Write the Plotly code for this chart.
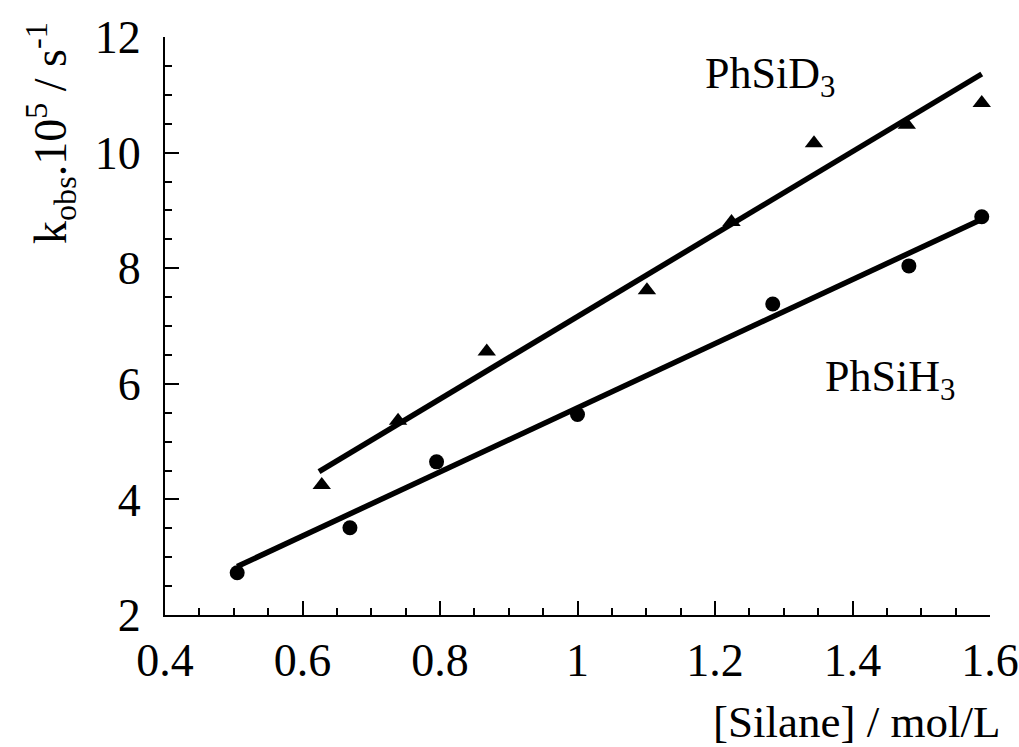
import plotly.graph_objects as go

# --- data ---
h3_x = [0.505, 0.669, 0.795, 1.000, 1.284, 1.482, 1.588]
h3_y = [2.73, 3.51, 4.65, 5.47, 7.38, 8.04, 8.89]

d3_x = [0.628, 0.739, 0.868, 1.101, 1.224, 1.344, 1.479, 1.588]
d3_y = [4.25, 5.36, 6.56, 7.62, 8.80, 10.16, 10.48, 10.86]

h3_fit_x = [0.505, 1.585]
h3_fit_y = [2.84, 8.83]
d3_fit_x = [0.624, 1.588]
d3_fit_y = [4.48, 11.36]

x_ticks = [0.4, 0.6, 0.8, 1.0, 1.2, 1.4, 1.6]
x_tick_labels = ["0.4", "0.6", "0.8", "1", "1.2", "1.4", "1.6"]
y_ticks = [2, 4, 6, 8, 10, 12]

FONT = "Liberation Serif, Times New Roman, serif"
FS = 46
FS_LBL = 44

fig = go.Figure()
fig.add_trace(go.Scatter(x=d3_fit_x, y=d3_fit_y, mode="lines",
                         line=dict(color="black", width=5.5), showlegend=False))
fig.add_trace(go.Scatter(x=h3_fit_x, y=h3_fit_y, mode="lines",
                         line=dict(color="black", width=5.5), showlegend=False))
fig.add_trace(go.Scatter(x=d3_x, y=d3_y, mode="markers",
                         marker=dict(symbol="triangle-up", size=16, color="black"),
                         showlegend=False, cliponaxis=False))
fig.add_trace(go.Scatter(x=h3_x, y=h3_y, mode="markers",
                         marker=dict(symbol="circle", size=15, color="black"),
                         showlegend=False, cliponaxis=False))

W, H = 1019, 747
L, R, T, B = 165, 29, 37, 132
pw, ph = W - L - R, H - T - B

def px2paper(px, py):
    return (px - L) / pw, (H - B - py) / ph

axis_common = dict(
    showline=True, linecolor="black", linewidth=2, mirror=False,
    showgrid=False, zeroline=False, automargin=False,
    ticks="inside", ticklen=14, tickwidth=2, tickcolor="black",
    tickfont=dict(family=FONT, size=FS, color="black"),
)

fig.update_xaxes(range=[0.4, 1.6], tickvals=x_ticks, ticktext=x_tick_labels,
                 minor=dict(dtick=0.05, ticks="inside", ticklen=7, tickwidth=2,
                            tickcolor="black", showgrid=False),
                 ticklabelstandoff=4, **axis_common)
fig.update_yaxes(range=[2, 12], tickvals=y_ticks,
                 minor=dict(dtick=0.5, ticks="inside", ticklen=7, tickwidth=2,
                            tickcolor="black", showgrid=False),
                 ticklabelstandoff=13, **axis_common)

ax, ay = px2paper(50, 133)
fig.add_annotation(xref="paper", yref="paper", x=ax, y=ay, textangle=-90,
                   text="k<sub>obs</sub>.10<sup>5</sup> / s<sup>-1</sup>",
                   showarrow=False, xanchor="center", yanchor="middle",
                   font=dict(family=FONT, size=FS, color="black"))
bx, by = px2paper(1002, 722)
fig.add_annotation(xref="paper", yref="paper", x=bx, y=by,
                   text="[Silane] / mol/L", showarrow=False,
                   xanchor="right", yanchor="middle",
                   font=dict(family=FONT, size=45, color="black"))
fig.add_annotation(xref="x", yref="y", x=1.183, y=11.31,
                   text="PhSiD<sub>3</sub>", showarrow=False,
                   xanchor="left", yanchor="middle",
                   font=dict(family=FONT, size=FS_LBL, color="black"))
fig.add_annotation(xref="x", yref="y", x=1.357, y=6.07,
                   text="PhSiH<sub>3</sub>", showarrow=False,
                   xanchor="left", yanchor="middle",
                   font=dict(family=FONT, size=FS_LBL, color="black"))

fig.update_layout(width=W, height=H, margin=dict(l=L, r=R, t=T, b=B, autoexpand=False),
                  paper_bgcolor="white", plot_bgcolor="white",
                  font=dict(family=FONT, size=FS, color="black"),
                  showlegend=False)

fig.write_html("out.html")
